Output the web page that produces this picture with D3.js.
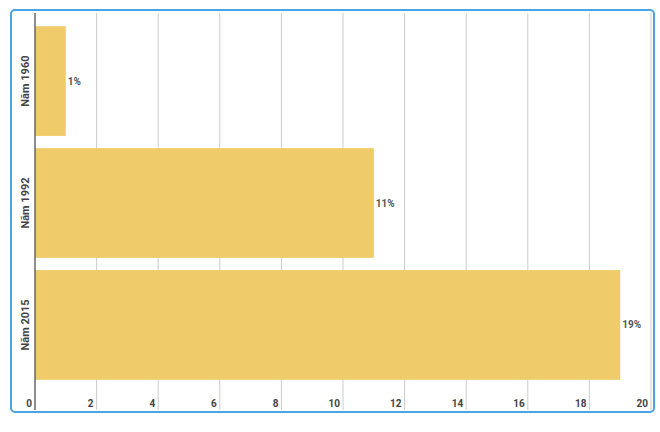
<!DOCTYPE html>
<html>
<head>
<meta charset="utf-8">
<script src="https://cdn.jsdelivr.net/npm/d3@7"></script>
<style>
  body { margin: 0; background: #fff; }
  svg { font-family: Roboto, "Noto Sans", sans-serif; }
</style>
</head>
<body>
<svg id="chart"></svg>
<script>
// data
const years = ["Năm 1960", "Năm 1992", "Năm 2015"];
const values = [1, 11, 19];
const valueLabels = ["1%", "11%", "19%"];
const xTicks = [0, 2, 4, 6, 8, 10, 12, 14, 16, 18, 20];

const width = 660, height = 432;
const svg = d3.select("#chart").attr("width", width).attr("height", height);

// frame
svg.append("rect")
    .attr("x", 11).attr("y", 10)
    .attr("width", 643).attr("height", 402)
    .attr("rx", 4)
    .attr("fill", "none")
    .attr("stroke", "#4ba3df")
    .attr("stroke-width", 2);

const x = d3.scaleLinear().domain([0, 20]).range([35, 651]);
const y = d3.scaleBand().domain(years).range([14, 392]).paddingInner(0.1).paddingOuter(0.1);

// grid lines
svg.append("g")
    .selectAll("line")
    .data(xTicks.slice(1))
    .join("line")
    .attr("x1", d => x(d)).attr("x2", d => x(d))
    .attr("y1", 13).attr("y2", 410)
    .attr("stroke", "#cccccc")
    .attr("stroke-width", 1);

// x tick labels (right aligned, left of the grid line)
svg.append("g")
    .selectAll("text")
    .data(xTicks)
    .join("text")
    .attr("x", d => x(d) - 3)
    .attr("y", 407)
    .attr("text-anchor", "end")
    .attr("font-size", "10px")
    .attr("font-weight", "bold")
    .attr("fill", "#444")
    .text(d => d);

// bars
const rows = years.map((k, i) => ({year: k, value: values[i], label: valueLabels[i]}));

svg.append("g")
    .selectAll("rect")
    .data(rows)
    .join("rect")
    .attr("x", x(0))
    .attr("y", d => y(d.year))
    .attr("width", d => x(d.value) - x(0))
    .attr("height", y.bandwidth())
    .attr("fill", "#efcb69");

// value labels
svg.append("g")
    .selectAll("text")
    .data(rows)
    .join("text")
    .attr("x", d => x(d.value) + 2)
    .attr("y", d => y(d.year) + y.bandwidth() / 2)
    .attr("dy", "0.35em")
    .attr("font-size", "10px")
    .attr("font-weight", "bold")
    .attr("fill", "#555")
    .text(d => d.label);

// y labels (rotated)
svg.append("g")
    .selectAll("text")
    .data(years)
    .join("text")
    .attr("transform", d => `translate(25, ${y(d) + y.bandwidth() / 2}) rotate(-90)`)
    .attr("text-anchor", "middle")
    .attr("dy", "0.35em")
    .attr("font-size", "11px")
    .attr("font-weight", "bold")
    .attr("fill", "#444")
    .text(d => d);

// y axis line
svg.append("line")
    .attr("x1", x(0)).attr("x2", x(0))
    .attr("y1", 13).attr("y2", 410)
    .attr("stroke", "#666")
    .attr("stroke-width", 1.5);
</script>
</body>
</html>
